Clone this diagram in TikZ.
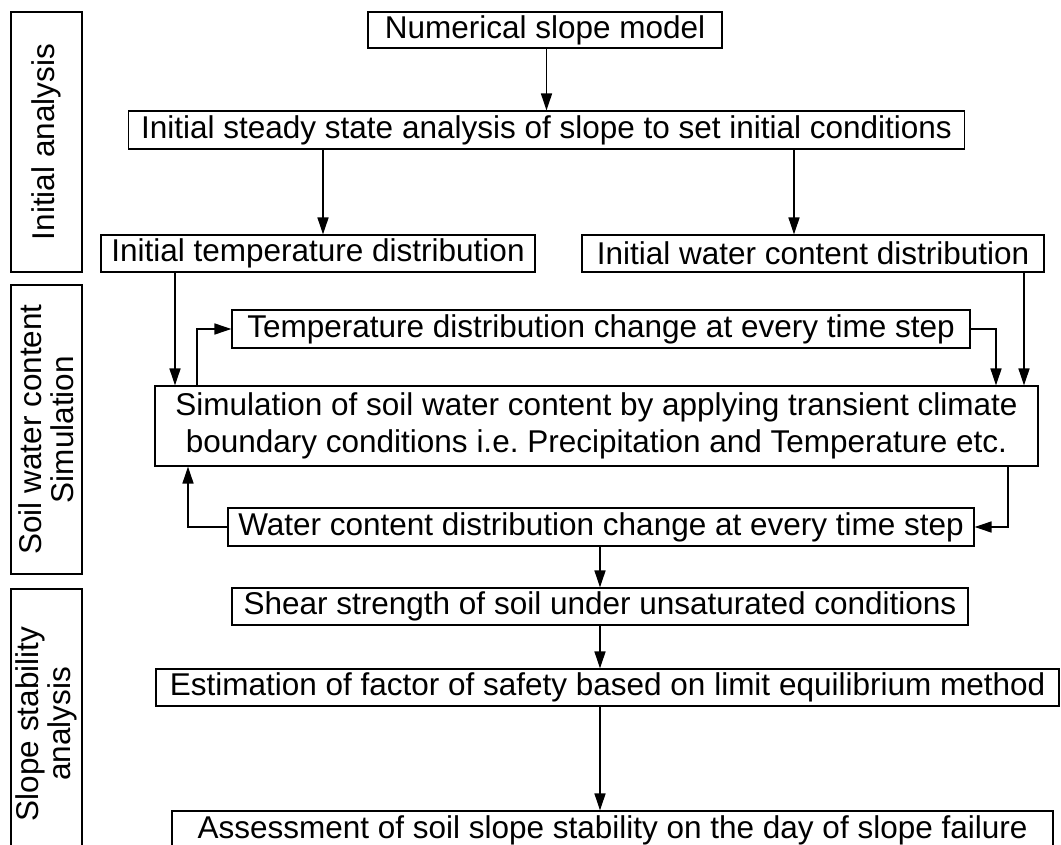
\documentclass[tikz,border=0pt]{standalone}
\usepackage{fontspec}
\setmainfont{Liberation Sans}
\usetikzlibrary{arrows.meta}

\begin{document}
\frenchspacing
\begin{tikzpicture}[x=1pt,y=-1pt,
  box/.style={draw,line width=1.2pt,inner sep=0pt,align=center,
    font=\fontsize{31.5}{36.5}\selectfont},
  phase/.style={draw,line width=1.2pt,inner sep=0pt,align=center,rotate=90,
    font=\fontsize{31.5}{32}\selectfont},
  arr/.style={line width=1.6pt,-{Triangle[length=17pt,width=11pt]}}]

\useasboundingbox (0,0) rectangle (1061,845);

% phase labels on the left
\node[phase,minimum width=260,minimum height=71] (ph1) at (46.5,142) {Initial analysis};
\node[phase,minimum width=289,minimum height=71] (ph2) at (46.5,429.5) {Soil water content\\Simulation};
\node[phase,minimum width=270,minimum height=71] (ph3) at (46.5,724) {Slope stability\\analysis};

% process boxes
\node[box,minimum width=354,minimum height=36] (num) at (545,30) {Numerical slope model};
\node[box,minimum width=836,minimum height=38] (steady) at (546.5,130) {Initial steady state analysis of slope to set initial conditions};
\node[box,minimum width=434,minimum height=37] (itemp) at (318,253.5) {Initial temperature distribution};
\node[box,minimum width=462,minimum height=37] (iwater) at (813,253.5) {Initial water content distribution};
\node[box,minimum width=738,minimum height=38] (tchange) at (601,329) {Temperature distribution change at every time step};
\node[box,minimum width=883,minimum height=80] (sim) at (596.5,426) {Simulation of soil water content by applying transient climate\\boundary conditions i.e. Precipitation and Temperature etc.};
\node[box,minimum width=746,minimum height=38] (wchange) at (601,527) {Water content distribution change at every time step};
\node[box,minimum width=736,minimum height=37] (shear) at (600,606.5) {Shear strength of soil under unsaturated conditions};
\node[box,minimum width=903,minimum height=37] (est) at (607.5,687.5) {Estimation of factor of safety based on limit equilibrium method};
\node[box,minimum width=881,minimum height=38] (assess) at (612.5,830) {Assessment of soil slope stability on the day of slope failure};

% vertical guide positions for connectors
\coordinate (xa) at (323,0);
\coordinate (xb) at (794,0);
\coordinate (xc) at (175,0);
\coordinate (xd) at (1024,0);
\coordinate (xe) at (996,0);
\coordinate (xf) at (197,0);
\coordinate (xg) at (1008,0);
\coordinate (xh) at (188,0);
\coordinate (xm) at (600,0);

% connectors
\draw[arr] (num.south -| steady.north) -- (steady.north);
\draw[arr] (xa |- steady.south) -- (xa |- itemp.north);
\draw[arr] (xb |- steady.south) -- (xb |- iwater.north);
\draw[arr] (xc |- itemp.south) -- (xc |- sim.north);
\draw[arr] (xd |- iwater.south) -- (xd |- sim.north);
\draw[arr] (tchange.east) -- (xe |- tchange.east) -- (xe |- sim.north);
\draw[arr] (xf |- sim.north) |- (tchange.west);
\draw[arr] (xg |- sim.south) |- (wchange.east);
\draw[arr] (wchange.west) -| (xh |- sim.south);
\draw[arr] (xm |- wchange.south) -- (xm |- shear.north);
\draw[arr] (xm |- shear.south) -- (xm |- est.north);
\draw[arr] (xm |- est.south) -- (xm |- assess.north);
\end{tikzpicture}
\end{document}
